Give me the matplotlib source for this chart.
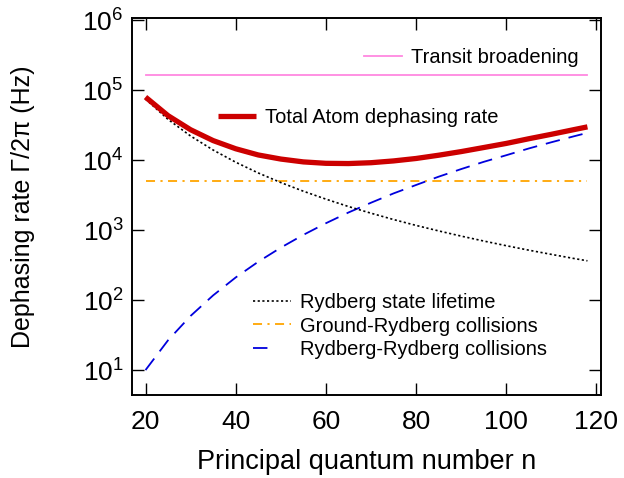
import matplotlib
matplotlib.use("Agg")
import matplotlib.pyplot as plt
from matplotlib.lines import Line2D

plt.rcParams['font.family'] = ['Liberation Sans', 'DejaVu Sans']
plt.rcParams['mathtext.fontset'] = 'custom'
plt.rcParams['mathtext.rm'] = 'Liberation Sans'
plt.rcParams['mathtext.it'] = 'Liberation Sans'

# principal quantum number
n = [20, 25, 30, 35, 40, 45, 50, 55, 60, 65, 70, 75, 80, 85, 90, 95,
     100, 105, 110, 115, 118]

# dephasing rates (Hz)
lifetime = [75000, 38400, 22200, 14000, 9375, 6580, 4800, 3610, 2780, 2180,
            1750, 1420, 1170, 977, 823, 700, 600, 518, 451, 394, 365]
rydryd = [10, 26.7, 59.5, 117, 211, 354, 563, 857, 1257, 1790, 2470, 3356,
          4430, 5820, 7480, 9490, 11800, 14740, 18080, 22000, 24650]
total = [80000, 43400, 27300, 19100, 14600, 11900, 10400, 9470, 9040, 8970,
         9220, 9780, 10600, 11800, 13300, 15200, 17400, 20300, 23500, 27400,
         30000]
ground_rate = 5000
transit_rate = 1.67e5

fig = plt.figure(figsize=(6.24, 4.78), dpi=100)
ax = fig.add_axes([0.2115, 0.1736, 0.7516, 0.7887])

pink = '#FF88E0'
orange = '#FFA500'
blue = '#0000DD'
red = '#CC0000'

l_tr, = ax.plot([n[0], n[-1]], [transit_rate, transit_rate], color=pink, lw=1.3)
l_gr, = ax.plot([n[0], n[-1]], [ground_rate, ground_rate], color=orange, lw=1.3,
                dashes=(5, 3, 1.2, 3))
l_rr, = ax.plot(n, rydryd, color=blue, lw=1.3, dashes=(8, 5))
l_lt, = ax.plot(n, lifetime, color='black', lw=1.2, dashes=(1.3, 1.5))
l_tot, = ax.plot(n, total, color=red, lw=3.8, solid_capstyle='butt')

ax.set_yscale('log')
ax.set_xlim(17, 121)
ax.set_ylim(4.4, 1.08e6)
ax.set_xticks([20, 40, 60, 80, 100, 120])
ax.set_yticks([1e1, 1e2, 1e3, 1e4, 1e5, 1e6])
ax.set_yticklabels([r'$10^{%d}$' % k for k in range(1, 7)])
ax.minorticks_off()
ax.tick_params(which='major', direction='in', length=8.5, width=1.0,
               top=True, right=True, labelsize=19, pad=6)
ax.tick_params(axis='x', pad=10.5)
for s in ax.spines.values():
    s.set_linewidth(1.4)

ax.set_xlabel('Principal quantum number n', fontsize=19.5, labelpad=11)
ax.set_ylabel('Dephasing rate Γ/2π (Hz)', fontsize=18, labelpad=34)

leg_kw = dict(frameon=False, fontsize=14.5, handlelength=1.9, handletextpad=0.45,
              borderpad=0, borderaxespad=0, loc='center left')

leg1 = ax.legend([l_tr], ['Transit broadening'], bbox_to_anchor=(0.4947, 0.894), **leg_kw)
ax.add_artist(leg1)
leg2 = ax.legend([l_tot], ['Total Atom dephasing rate'], bbox_to_anchor=(0.183, 0.735), **leg_kw)
ax.add_artist(leg2)
h_rr = Line2D([], [], color=blue, lw=1.3, dashes=(8, 14, 1, 3))
ax.legend([l_lt, l_gr, h_rr],
          ['Rydberg state lifetime', 'Ground-Rydberg collisions', 'Rydberg-Rydberg collisions'],
          bbox_to_anchor=(0.258, 0.183), labelspacing=0.22, **leg_kw)

fig.savefig('out.png', dpi=100)
